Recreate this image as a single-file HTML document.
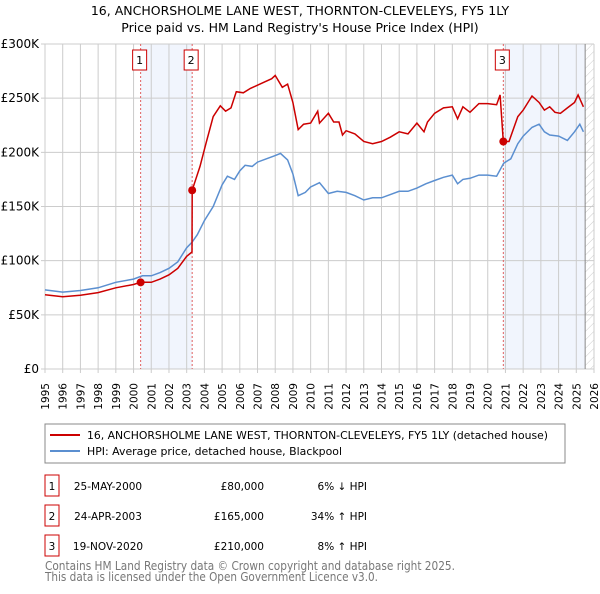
<!DOCTYPE html>
<html><head><meta charset="utf-8"><style>
body{margin:0;background:#fff;font-family:"DejaVu Sans","Liberation Sans",sans-serif;}
svg text{font-family:"DejaVu Sans","Liberation Sans",sans-serif;}
</style></head><body>
<svg id="chart" width="600" height="590" xmlns="http://www.w3.org/2000/svg">
<defs><pattern id="hatch" width="6" height="6" patternUnits="userSpaceOnUse" patternTransform="rotate(45)"><line x1="0" y1="0" x2="0" y2="6" stroke="#ccc" stroke-width="1"/></pattern></defs>
<text x="300" y="15" text-anchor="middle" font-size="12.5" fill="#000">16, ANCHORSHOLME LANE WEST, THORNTON-CLEVELEYS, FY5 1LY</text>
<text x="300" y="32" text-anchor="middle" font-size="12.5" fill="#000">Price paid vs. HM Land Registry's House Price Index (HPI)</text>
<g id="plot"></g>
<rect x="45" y="424" width="520" height="39" fill="none" stroke="#888"/>
<line x1="50" y1="435" x2="80" y2="435" stroke="#cc0000" stroke-width="2"/>
<text x="87" y="439" font-size="11" textLength="461" lengthAdjust="spacingAndGlyphs">16, ANCHORSHOLME LANE WEST, THORNTON-CLEVELEYS, FY5 1LY (detached house)</text>
<line x1="50" y1="451" x2="80" y2="451" stroke="#5b8fd0" stroke-width="2"/>
<text x="87" y="455" font-size="11" textLength="255" lengthAdjust="spacingAndGlyphs">HPI: Average price, detached house, Blackpool</text>
<g id="table" font-size="10.5"></g>
<text x="45" y="570" font-size="12" fill="#777" textLength="410" lengthAdjust="spacingAndGlyphs">Contains HM Land Registry data © Crown copyright and database right 2025.</text>
<text x="45" y="581" font-size="12" fill="#777" textLength="333" lengthAdjust="spacingAndGlyphs">This data is licensed under the Open Government Licence v3.0.</text>
</svg>
<script>
const hpiYears=[1995,1996,1997,1998,1999,2000,2000.5,2001,2001.5,2002,2002.5,2003,2003.3,2003.6,2004,2004.5,2005,2005.3,2005.7,2006,2006.3,2006.7,2007,2007.5,2008,2008.3,2008.7,2009,2009.3,2009.7,2010,2010.5,2011,2011.5,2012,2012.5,2013,2013.5,2014,2014.5,2015,2015.5,2016,2016.5,2017,2017.5,2018,2018.3,2018.6,2019,2019.5,2020,2020.5,2020.9,2021.3,2021.7,2022,2022.5,2022.9,2023.2,2023.5,2024,2024.5,2024.9,2025.2,2025.4];
const hpiValues=[73,71,72.5,75,80,83,86,86,89,93,99,112,117,124,137,150,170,178,175,183,188,187,191,194,197,199,193,180,160,163,168,172,162,164,163,160,156,158,158,161,164,164,167,171,174,177,179,171,175,176,179,179,178,190,194,208,215,223,226,219,216,215,211,219,226,219];
const redYears=[1995,1996,1997,1998,1999,2000,2000.4,2000.5,2001,2001.5,2002,2002.5,2003,2003.3,2003.31,2003.75,2004.1,2004.5,2004.9,2005.2,2005.5,2005.8,2006.2,2006.6,2007,2007.4,2007.8,2008,2008.4,2008.7,2009,2009.3,2009.6,2010,2010.4,2010.5,2011,2011.3,2011.6,2011.8,2012,2012.5,2013,2013.5,2014,2014.5,2015,2015.5,2016,2016.4,2016.6,2017,2017.5,2018,2018.3,2018.6,2019,2019.5,2020,2020.5,2020.7,2020.88,2021.2,2021.7,2022,2022.5,2022.9,2023.2,2023.5,2023.8,2024.1,2024.5,2024.9,2025.1,2025.4];
const redValues=[68.6,66.7,68,70.5,75,78,80,80,80,83,87,93,104,108,165,187,209,233,243,238,241,256,255,259,262,265,268,271,260,263,246,221,226,227,238,227,236,228,228,216,220,217,210,208,210,214,219,217,227,219,228,236,241,242,231,242,237,245,245,244,253,210,210,233,239,252,246,239,242,237,236,241,246,253,242];
const saleYears=[2000.4,2003.31,2020.88];
const saleValues=[80,165,210];
const saleLabels=["1","2","3"];
const saleDates=["25-MAY-2000","24-APR-2003","19-NOV-2020"];
const salePrices=["£80,000","£165,000","£210,000"];
const saleHpi=["6% ↓ HPI","34% ↑ HPI","8% ↑ HPI"];
const yTicks=[0,50,100,150,200,250,300];
const yTickLabels=["£0","£50K","£100K","£150K","£200K","£250K","£300K"];
const xTicks=[1995,1996,1997,1998,1999,2000,2001,2002,2003,2004,2005,2006,2007,2008,2009,2010,2011,2012,2013,2014,2015,2016,2017,2018,2019,2020,2021,2022,2023,2024,2025,2026];

const X0=45,X1=594,Y0=369,Y1=44;
const xs=y=>X0+(y-1995)/(2026-1995)*(X1-X0);
const ys=v=>Y0-v/300*(Y0-Y1);
const NS="http://www.w3.org/2000/svg";
const plot=document.getElementById('plot');
function mk(tag,attrs,parent){const e=document.createElementNS(NS,tag);for(const k in attrs)e.setAttribute(k,attrs[k]);(parent||plot).appendChild(e);return e;}
let e;
e=mk('rect',{x:xs(2000.4),y:Y1,width:xs(2003.31)-xs(2000.4),height:Y0-Y1,fill:'#eef3fc',opacity:0.8});


e=mk('rect',{x:xs(2020.88),y:Y1,width:xs(2025.5)-xs(2020.88),height:Y0-Y1,fill:'#eef3fc',opacity:0.8});


e=mk('rect',{x:xs(2025.5),y:Y1,width:X1-xs(2025.5),height:Y0-Y1,fill:'url(#hatch)'});


xTicks.forEach((t,i)=>{
  e=mk('line',{x1:xs(t),x2:xs(t),y1:Y1,y2:Y0+4,stroke:'#ccc','stroke-width':1});
  
  
  const tx=xs(t)+4, ty=383;
  e=mk('text',{x:tx,y:ty,'text-anchor':'end','font-size':10.5,transform:'rotate(-90 '+tx+' '+ty+')'});
  e.textContent=t;
  
  
});
yTicks.forEach((t,i)=>{
  e=mk('line',{x1:X0-4,x2:X1,y1:ys(t),y2:ys(t),stroke:'#ccc','stroke-width':1});
  
  
  e=mk('text',{x:X0-6,y:ys(t)+4,'text-anchor':'end','font-size':12});
  e.textContent=yTickLabels[i];
  
  
});
e=mk('line',{x1:xs(2025.5),x2:xs(2025.5),y1:Y1,y2:Y0,stroke:'#888','stroke-width':1});


saleYears.forEach((s,i)=>{
  e=mk('line',{x1:xs(s),x2:xs(s),y1:Y1,y2:Y0,stroke:'#e06060','stroke-width':1,'stroke-dasharray':'2,2'});
  
  
});
const path=(xsA,vs)=>xsA.map((y,i)=>(i?'L':'M')+xs(y).toFixed(1)+','+ys(vs[i]).toFixed(1)).join('');
e=mk('path',{d:path(hpiYears,hpiValues),fill:'none',stroke:'#5b8fd0','stroke-width':1.5});


e=mk('path',{d:path(redYears,redValues),fill:'none',stroke:'#cc0000','stroke-width':1.5});


saleYears.forEach((s,i)=>{
  e=mk('circle',{cx:xs(s),cy:ys(saleValues[i]),r:4,fill:'#cc0000'});
  
  
  e=mk('rect',{x:xs(s)-8,y:50,width:14,height:20,fill:'#fff',stroke:'#cc0000'});
  
  
  e=mk('text',{x:xs(s)-1,y:64,'text-anchor':'middle','font-size':11});
  e.textContent=saleLabels[i];
  
  
});
const tb=document.getElementById('table');
const rowsY=[486,516,546];
saleLabels.forEach((l,i)=>{
  const cy=rowsY[i];
  e=mk('rect',{x:45,y:cy-11,width:14,height:21,fill:'#fff',stroke:'#cc0000'},tb);
  
  
  e=mk('text',{x:52,y:cy+4,'text-anchor':'middle'},tb);e.textContent=l;
  
  
  e=mk('text',{x:108,y:cy+4,'text-anchor':'middle'},tb);e.textContent=saleDates[i];
  
  
  e=mk('text',{x:264,y:cy+4,'text-anchor':'end'},tb);e.textContent=salePrices[i];
  
  
  e=mk('text',{x:367,y:cy+4,'text-anchor':'end'},tb);e.textContent=saleHpi[i];
  
  
});
</script>
</body></html>
